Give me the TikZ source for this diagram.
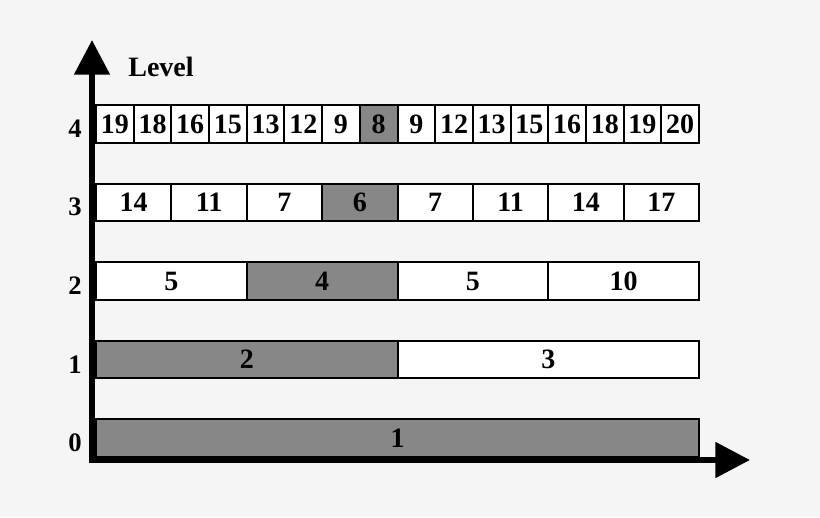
\documentclass[tikz,border=0pt]{standalone}
\usepackage{fontspec}
\setmainfont{Liberation Serif}
\usetikzlibrary{arrows.meta}
\definecolor{bgcol}{HTML}{F5F5F5}
\definecolor{cellgray}{HTML}{878787}
\begin{document}
\begin{tikzpicture}[x=0.75pt,y=-0.75pt,
		cell/.style={draw=black, line width=1.5pt, inner sep=0pt, outer sep=0pt,
			text height=14.2pt, text depth=0pt,
			font=\bfseries\fontsize{21}{21}\selectfont},
		lvl/.style={font=\bfseries\fontsize{20}{20}\selectfont},
		axis/.style={line width=4.5pt, -{Triangle[length=26pt,width=26pt]}}]
		\fill[bgcol] (0,0) rectangle (820,517);
		\useasboundingbox (0,0) rectangle (820,517);
		
		% axes
		\coordinate (origin) at (92,460);
		\coordinate (ytip) at (92,40);
		\coordinate (xtip) at (750,460);
		\draw[axis] (92,463) -- (ytip);
		\draw[axis] (89,460) -- (xtip);
		\node[font=\bfseries\fontsize{21}{21}\selectfont] (ylabel) at (161,67) {Level};
		
		% one row of cells per level
		\foreach \l/\g/\vals in {4/8/{19,18,16,15,13,12,9,8,9,12,13,15,16,18,19,20},
				3/4/{14,11,7,6,7,11,14,17},
				2/2/{5,4,5,10},
				1/1/{2,3},
				0/1/{1}}{
			\pgfmathsetmacro\w{603/2^\l}
			\pgfmathsetmacro\yc{123.75+78.5*(4-\l)}
			\node[lvl] (lab\l) at (75,\yc+5) {\l};
			\foreach \v [count=\i] in \vals {
				\ifnum\i=\g\def\cf{cellgray}\else\def\cf{white}\fi
				\node[cell, fill=\cf, minimum width=\w*0.75pt, minimum height=37.5*0.75pt]
					(c\l-\i) at ({96+(\i-0.5)*\w},\yc) {\v};
			}
		}
	\end{tikzpicture}
\end{document}
